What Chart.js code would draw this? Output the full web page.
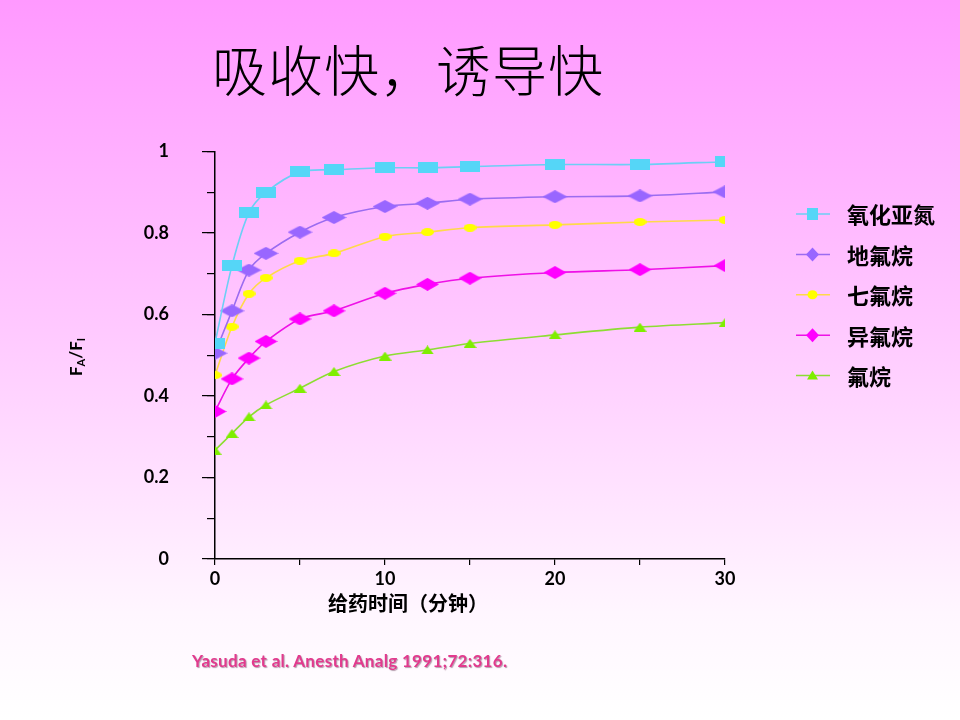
<!DOCTYPE html>
<html>
<head>
<meta charset="utf-8">
<script src="https://cdn.jsdelivr.net/npm/chart.js@4/dist/chart.umd.min.js"></script>
<style>
	html, body { margin: 0; padding: 0; }
	body {
		width: 960px; height: 720px; overflow: hidden; position: relative;
		background: linear-gradient(to bottom, #ff99ff 0%, #ffc8ff 45%, #fff6ff 85%, #ffffff 100%);
	}
	#chartBox { position: absolute; left: 0; top: 0; width: 960px; height: 720px; }
	.title {
		position: absolute; left: 212px; top: 34px;
		font-family: "Noto Sans CJK SC"; font-weight: 300; font-size: 55px; line-height: 66px;
		letter-spacing: 1px; color: #000; white-space: nowrap;
	}
	.xtitle {
		position: absolute; left: 408px; top: 590px; transform: translateX(-50%);
		font-family: "Noto Sans CJK SC"; font-weight: 700; font-size: 20px; line-height: 26px;
		color: #000; white-space: nowrap;
	}
	.cite {
		position: absolute; left: 192px; top: 650px;
		font-family: Lato; font-weight: 700; font-size: 17px; line-height: 22px; letter-spacing: 0.3px;
		color: #e23a8e; text-shadow: 1px 1px 1px rgba(90, 40, 70, 0.45); white-space: nowrap;
	}
</style>
</head>
<body>
<div id="chartBox"><canvas id="uptakeChart" width="960" height="720"></canvas></div>
<div class="title">吸收快，诱导快</div>
<div class="xtitle">给药时间（分钟）</div>
<div class="cite">Yasuda et al. Anesth Analg 1991;72:316.</div>
<script>
// time after start of administration (min)
const times = [0, 1, 2, 3, 5, 7, 10, 12.5, 15, 20, 25, 30];

// FA/FI per agent
const nitrousOxide = [0.53, 0.72, 0.85, 0.90, 0.95, 0.955, 0.96, 0.96, 0.963, 0.968, 0.968, 0.975];
const desflurane   = [0.505, 0.609, 0.709, 0.75, 0.802, 0.838, 0.865, 0.873, 0.883, 0.889, 0.891, 0.901];
const sevoflurane  = [0.451, 0.57, 0.651, 0.69, 0.732, 0.75, 0.791, 0.802, 0.813, 0.82, 0.827, 0.832];
const isoflurane   = [0.362, 0.442, 0.493, 0.534, 0.589, 0.609, 0.652, 0.674, 0.689, 0.703, 0.71, 0.72];
const halothane    = [0.267, 0.308, 0.349, 0.378, 0.419, 0.46, 0.498, 0.513, 0.529, 0.55, 0.569, 0.58];

const seriesNames = ['氧化亚氮', '地氟烷', '七氟烷', '异氟烷', '氟烷'];

// stretched markers, like the original picture
function makeMarker(w, h, color, shape) {
	const c = document.createElement('canvas');
	c.width = w; c.height = h;
	const g = c.getContext('2d');
	g.fillStyle = color;
	g.beginPath();
	if (shape == 'rect') {
		g.rect(0, 0, w, h);
	} else if (shape == 'diamond') {
		g.moveTo(w / 2, 0); g.lineTo(w, h / 2); g.lineTo(w / 2, h); g.lineTo(0, h / 2);
	} else if (shape == 'ellipse') {
		g.ellipse(w / 2, h / 2, w / 2, h / 2, 0, 0, Math.PI * 2);
	} else {
		g.moveTo(w / 2, 0); g.lineTo(w, h); g.lineTo(0, h);
	}
	g.closePath();
	g.fill();
	return c;
}

const styles = [
	{ line: '#6ccff5', fill: '#55d6f7', marker: makeMarker(20, 11, '#55d6f7', 'rect'), legend: 'rect' },
	{ line: '#9b6cf0', fill: '#9966ff', marker: makeMarker(25, 13, '#9966ff', 'diamond'), legend: 'diamond' },
	{ line: '#ffd94a', fill: '#ffff00', marker: makeMarker(13, 8, '#ffff00', 'ellipse'), legend: 'ellipse' },
	{ line: '#ee11e6', fill: '#ff00ff', marker: makeMarker(23, 13, '#ff00ff', 'diamond'), legend: 'diamond' },
	{ line: '#8ddd33', fill: '#7fee00', marker: makeMarker(13, 9, '#7fee00', 'triangle'), legend: 'triangle' }
];

const seriesValues = [nitrousOxide, desflurane, sevoflurane, isoflurane, halothane];

const datasets = seriesValues.map(function(vals, i) {
	return {
		label: seriesNames[i],
		data: times.map((t, k) => ({ x: t, y: vals[k] })),
		borderColor: styles[i].line,
		backgroundColor: styles[i].fill,
		borderWidth: 1.6,
		tension: 0.3,
		pointStyle: styles[i].marker,
		pointRadius: 6,
		pointHoverRadius: 6,
		order: i
	};
});

// legend drawn at the right, line + marker + text
const legendPlugin = {
	id: 'sideLegend',
	afterDraw(chart) {
		const ctx = chart.ctx;
		ctx.save();
		chart.data.datasets.forEach(function(ds, i) {
			const y = 214 + i * 40.4;
			const st = styles[i];
			ctx.strokeStyle = st.line;
			ctx.lineWidth = 1.5;
			ctx.beginPath();
			ctx.moveTo(796, y); ctx.lineTo(830, y);
			ctx.stroke();
			ctx.fillStyle = st.fill;
			ctx.beginPath();
			if (st.legend == 'rect') {
				ctx.rect(807, y - 6, 11, 12);
			} else if (st.legend == 'diamond') {
				ctx.moveTo(812.5, y - 7); ctx.lineTo(819, y); ctx.lineTo(812.5, y + 7); ctx.lineTo(806, y);
			} else if (st.legend == 'ellipse') {
				ctx.ellipse(812.5, y, 5, 4.5, 0, 0, Math.PI * 2);
			} else {
				ctx.moveTo(812.5, y - 5); ctx.lineTo(818, y + 4); ctx.lineTo(807, y + 4);
			}
			ctx.closePath();
			ctx.fill();
			ctx.fillStyle = '#000';
			ctx.font = '700 22px "Noto Sans CJK SC"';
			ctx.textBaseline = 'middle';
			ctx.textAlign = 'left';
			ctx.fillText(ds.label, 847, y + 1);
		});
		ctx.restore();
	}
};

// rotated FA/FI with subscripts
const yTitlePlugin = {
	id: 'yTitle',
	afterDraw(chart) {
		const ctx = chart.ctx;
		ctx.save();
		ctx.translate(76, 357);
		ctx.rotate(-Math.PI / 2);
		ctx.fillStyle = '#000';
		ctx.textBaseline = 'alphabetic';
		ctx.textAlign = 'left';
		const big = '700 17px Lato';
		const small = '700 11px Lato';
		const parts = [['F', big, 0], ['A', small, 3], ['/F', big, 0], ['I', small, 3]];
		let w = 0;
		parts.forEach(function(p) { ctx.font = p[1]; w += ctx.measureText(p[0]).width; });
		let x = -w / 2;
		parts.forEach(function(p) {
			ctx.font = p[1];
			ctx.fillText(p[0], x, 6 + p[2]);
			x += ctx.measureText(p[0]).width;
		});
		ctx.restore();
	}
};

const tickFont = { family: 'Lato', weight: '700', size: 18 };

new Chart(document.getElementById('uptakeChart').getContext('2d'), {
	type: 'line',
	data: { datasets: datasets },
	options: {
		responsive: false,
		animation: false,
		layout: { padding: { top: 151.5, right: 235, left: 0, bottom: 0 } },
		plugins: {
			legend: { display: false },
			tooltip: { enabled: false }
		},
		scales: {
			x: {
				type: 'linear',
				min: 0,
				max: 30,
				ticks: {
					stepSize: 5,
					color: '#000',
					font: tickFont,
					padding: 3,
					maxRotation: 0,
					callback: (v) => (v % 10 === 0 ? v : '')
				},
				grid: { drawOnChartArea: false, tickLength: 6, color: '#000', lineWidth: 1.2 },
				border: { color: '#000', width: 1.5 },
				afterFit: (s) => { s.height = 161; }
			},
			y: {
				position: 'left',
				weight: 1,
				min: 0,
				max: 1,
				ticks: {
					stepSize: 0.2,
					color: '#000',
					font: tickFont,
					padding: 33,
					callback: (v) => String(Math.round(v * 10) / 10)
				},
				grid: { drawOnChartArea: false, tickLength: 13, color: '#000', lineWidth: 1.2 },
				border: { color: '#000', width: 1.5 },
				afterFit: (s) => { s.width = 215; }
			},
			yMinor: {
				position: 'left',
				weight: 0,
				min: 0,
				max: 1,
				ticks: { stepSize: 0.1, display: false },
				grid: { drawOnChartArea: false, tickLength: 8, color: '#000', lineWidth: 1.2 },
				border: { display: false },
				afterFit: (s) => { s.width = 0; }
			}
		}
	},
	plugins: [legendPlugin, yTitlePlugin]
});
</script>
</body>
</html>
